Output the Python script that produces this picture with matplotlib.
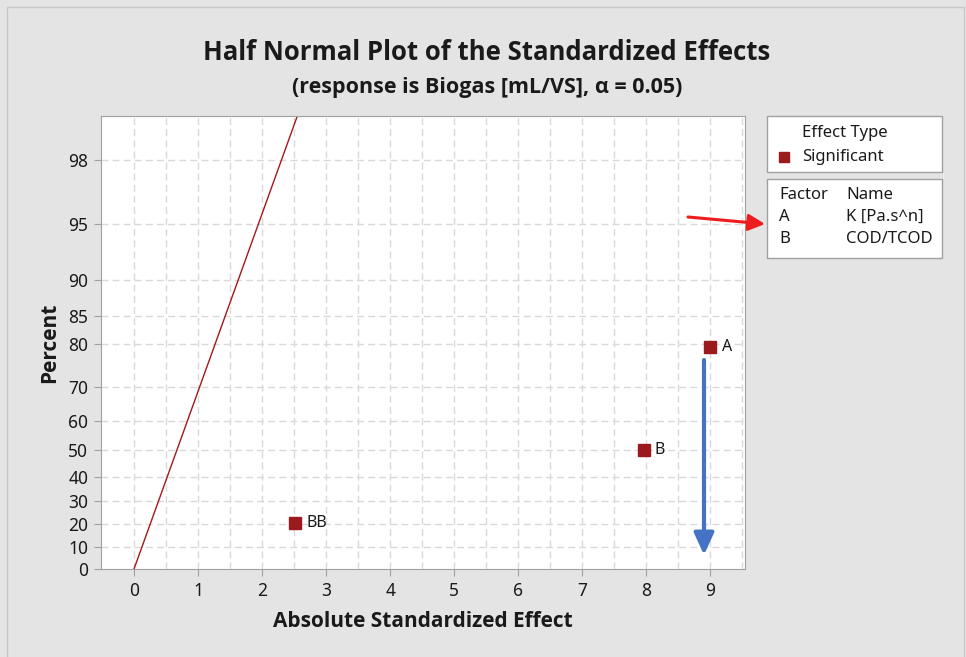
import numpy as np
import matplotlib
matplotlib.use("Agg")
import matplotlib.pyplot as plt
from matplotlib.patches import Rectangle
from statistics import NormalDist

plt.rcParams['font.family'] = ['Noto Sans', 'DejaVu Sans']
bold_font = ['Open Sans', 'DejaVu Sans']

# effects (absolute standardized) and their half-normal plotting percents
effect_names = ['BB', 'B', 'A']
effect_values = [2.52, 7.96, 9.00]
effect_pcts = [20.6, 50.0, 79.4]

y_ticks = [0, 10, 20, 30, 40, 50, 60, 70, 80, 85, 90, 95, 98]
x_ticks = list(range(10))

line_slope = 0.99      # reference line: effect = slope * z
factor_rows = [('A', 'K [Pa.s^n]'), ('B', 'COD/TCOD')]

nd = NormalDist()


def hn(p):
    # half normal quantile of a percent
    p = np.atleast_1d(np.asarray(p, dtype=float))
    return np.array([0.0 if v <= 0 else nd.inv_cdf(0.5 + v / 200.0) for v in p])


W, H = 966, 657
ink = '#1a1a1a'
fig = plt.figure(figsize=(W / 100, H / 100), dpi=100)
fig.patch.set_facecolor('#e4e4e4')
fig.add_artist(Rectangle((7 / W, -0.1), (964 - 7) / W, (H - 7) / H + 0.1,
                         transform=fig.transFigure, fill=False,
                         edgecolor='#c8c8c8', lw=1))

ax = fig.add_axes([100.7 / W, (H - 569) / H, (745 - 100.7) / W, (569 - 116) / H])
ax.set_facecolor('white')

ztop = hn(99)[0]
ax.set_xlim(-0.52, 9.54)
ax.set_ylim(0, ztop)

# grid
grid_kw = dict(color='#d9d9d9', lw=1, ls=(0, (5, 3)), zorder=0)
for xv in np.arange(0, 9.6, 0.5):
    ax.axvline(xv, **grid_kw)
for yv in hn(y_ticks[1:]):
    ax.axhline(yv, **grid_kw)

# reference line
zz = np.linspace(0, ztop, 200)
ax.plot(zz * line_slope, zz, color='#a3181c', lw=1, zorder=2)

# effects
red = '#9b1a1e'
ax.plot(effect_values, hn(effect_pcts), 's', color=red, ms=8, zorder=3)
for n, xv, yv in zip(effect_names, effect_values, hn(effect_pcts)):
    ax.annotate(n, (xv, yv), xytext=(8, 0), textcoords='offset points',
                va='center', ha='left', fontsize=11.5, color=ink)

ax.set_xticks(x_ticks)
ax.set_yticks(hn(y_ticks))
ax.set_yticklabels([str(t) for t in y_ticks])
ax.tick_params(length=5, color='#a0a0a0', labelsize=12.5, labelcolor=ink, pad=4)
for s in ax.spines.values():
    s.set_color('#a0a0a0')

ax.set_xlabel('Absolute Standardized Effect', fontsize=15, fontweight='bold',
              family=bold_font, color=ink, labelpad=8)
ax.set_ylabel('Percent', fontsize=15, fontweight='bold', family=bold_font,
              color=ink, labelpad=6)

fig.text(487 / W, 1 - 53 / H, 'Half Normal Plot of the Standardized Effects',
         ha='center', va='center', fontsize=18.5, fontweight='bold',
         family=bold_font, color=ink)
fig.text(487 / W, 1 - 88 / H, '(response is Biogas [mL/VS], α = 0.05)',
         ha='center', va='center', fontsize=15.5, fontweight='bold',
         family=bold_font, color=ink)

# legend boxes
def box(x0, y0, x1, y1):
    fig.add_artist(Rectangle((x0 / W, 1 - y1 / H), (x1 - x0) / W, (y1 - y0) / H,
                             transform=fig.transFigure, facecolor='white',
                             edgecolor='#a0a0a0', lw=1))


def ftxt(x, y, s):
    fig.text(x / W, 1 - y / H, s, ha='left', va='center', fontsize=12, color=ink)


box(767, 116, 942, 172)
ftxt(802, 133, 'Effect Type')
fig.add_artist(Rectangle((779 / W, 1 - 162 / H), 10 / W, 10 / H,
                         transform=fig.transFigure, color=red))
ftxt(802, 157, 'Significant')

box(767, 179, 942, 258)
ftxt(779, 195, 'Factor')
ftxt(846, 195, 'Name')
for i, (f, nm) in enumerate(factor_rows):
    ftxt(779, 217 + 22 * i, f)
    ftxt(846, 217 + 22 * i, nm)

# overlay arrows
ax.annotate('', xy=(765, H - 224), xytext=(688, H - 217), xycoords='figure pixels',
            textcoords='figure pixels',
            arrowprops=dict(arrowstyle='-|>,head_length=0.5,head_width=0.25',
                            mutation_scale=20, lw=2.2, color='#ee1c1c',
                            shrinkA=0, shrinkB=0), annotation_clip=False)
ax.annotate('', xy=(704, H - 555), xytext=(704, H - 360), xycoords='figure pixels',
            textcoords='figure pixels',
            arrowprops=dict(arrowstyle='-|>,head_length=0.55,head_width=0.25',
                            mutation_scale=24, lw=3, color='#4472c4',
                            shrinkA=0, shrinkB=0), annotation_clip=False)

fig.savefig('out.png', dpi=100, facecolor=fig.get_facecolor())
